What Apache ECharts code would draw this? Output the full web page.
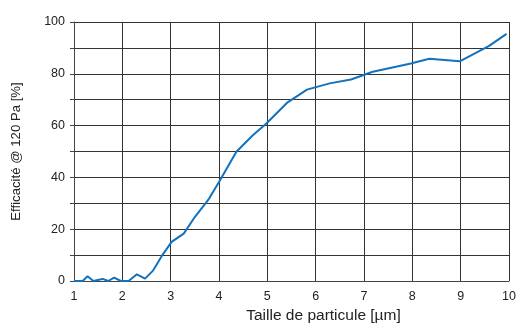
<!DOCTYPE html>
<html><head><meta charset="utf-8">
<script src="https://cdn.jsdelivr.net/npm/echarts@6/dist/echarts.min.js"></script>
<style>html,body{margin:0;padding:0;background:#fff}#c{width:519px;height:325px}</style>
</head><body><div id="c"></div>
<script>
var sizes = [1.0, 1.18, 1.28, 1.4, 1.59, 1.71, 1.83, 1.97, 2.13, 2.30, 2.47, 2.63, 2.81, 3.02, 3.27, 3.50, 3.78, 4.0, 4.36, 4.70, 4.98, 5.42, 5.82, 6.29, 6.73, 7.18, 7.66, 7.97, 8.35, 8.98, 9.58, 9.95];
var efficiency = [0, 0, 1.8, 0, 0.8, 0, 1.3, 0, 0, 2.6, 0.9, 3.9, 9.5, 15.1, 18.3, 24.7, 31.4, 38.2, 49.9, 56.3, 60.8, 69.0, 73.9, 76.3, 77.8, 80.8, 82.7, 84.0, 85.8, 84.8, 90.7, 95.4];
var xTitle = 'Taille de particule [µm]';
var yTitle = 'Efficacité @ 120 Pa [%]';
var pts = sizes.map(function(s, i){ return [s, efficiency[i]]; });
var chart = echarts.init(document.getElementById('c'), null, {renderer:'canvas'});
var font = '"Liberation Sans", Arial, sans-serif';
chart.setOption({
  animation: false,
  grid: {left: 74, right: 10, top: 22, bottom: 44, containLabel: false, outerBoundsMode: 'none'},
  xAxis: {
    type: 'value', min: 1, max: 10, interval: 1,
    name: xTitle, nameLocation: 'middle', nameGap: 24,
    nameTextStyle: {color: '#222', fontSize: 15.5, fontFamily: font, padding: [0, 0, 0, 64]},
    axisLine: {show: true, lineStyle: {color: '#444', width: 1}},
    axisTick: {show: false},
    axisLabel: {color: '#222', fontSize: 12.5, fontFamily: font, margin: 9},
    splitLine: {show: true, lineStyle: {color: '#333', width: 1}}
  },
  yAxis: {
    type: 'value', min: 0, max: 100, interval: 10,
    name: yTitle, nameLocation: 'middle', nameGap: 51, nameRotate: 90,
    nameTextStyle: {color: '#222', fontSize: 13.2, fontFamily: font},
    axisLine: {show: true, lineStyle: {color: '#444', width: 1}},
    axisTick: {show: true, length: 4, inside: false, lineStyle: {color: '#444'}},
    axisLabel: {color: '#222', fontSize: 12.5, fontFamily: font, margin: 9, padding: [0, 0, 5, 0],
      formatter: function(v){ return v % 20 === 0 ? String(v) : ''; }},
    splitLine: {show: true, lineStyle: {color: '#333', width: 1}}
  },
  series: [{
    type: 'line', data: pts, symbol: 'none', smooth: false,
    lineStyle: {color: '#1272bd', width: 2}
  }]
});
</script></body></html>
